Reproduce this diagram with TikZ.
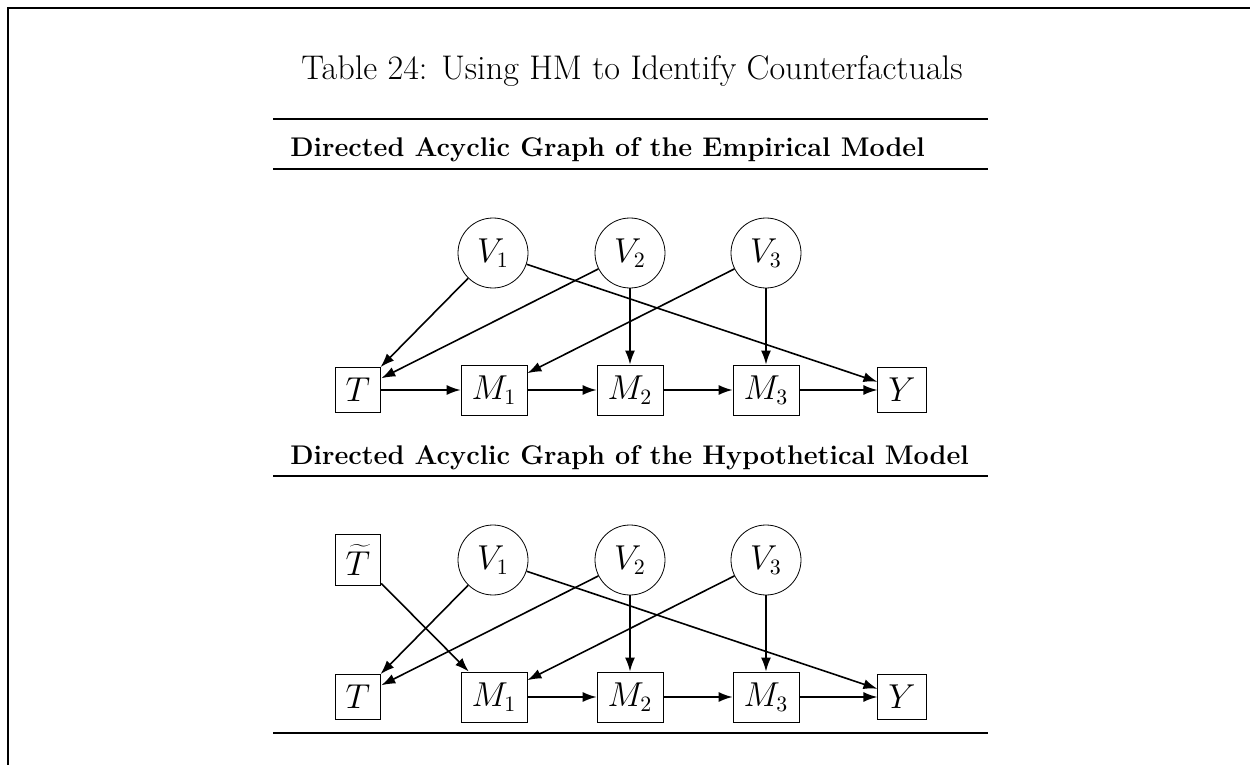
\documentclass[tikz,border=0pt]{standalone}
\usetikzlibrary{arrows.meta}
\begin{document}
\begin{tikzpicture}[x=0.5pt,y=-0.5pt,
  var/.style={draw,circle,line width=0.4pt,minimum size=35pt,inner sep=0pt,font=\fontsize{16}{19}\selectfont},
  obs/.style={draw,rectangle,line width=0.4pt,inner sep=5.3pt,font=\fontsize{16}{19}\selectfont},
  arr/.style={-{Latex[length=7pt,width=5pt]},line width=0.8pt},
  hrule/.style={line width=1.3pt},
  frame/.style={line width=1.2pt},
  title/.style={font=\fontsize{17.1}{20}\selectfont,anchor=base,inner sep=0pt},
  head/.style={font=\fontsize{13.5}{16}\selectfont\bfseries,anchor=base west,inner sep=0pt}]
\useasboundingbox (0,0) rectangle (1250,765);
\clip (0,0) rectangle (1250,765);
\draw[frame] (8,790) -- (8,8) -- (1280,8);

\node[title] (title) at (632,80) {Table 24: Using HM to Identify Counterfactuals};
\draw[hrule] (273,119) -- (988,119);
\node[head] (h1) at (290,157) {Directed Acyclic Graph of the Empirical Model};
\draw[hrule] (273,169) -- (988,169);
\node[head] (h2) at (290,465) {Directed Acyclic Graph of the Hypothetical Model};
\draw[hrule] (273,476) -- (988,476);
\draw[hrule] (273,733) -- (988,733);

% top graph
\node[var] (aV1) at (493,253) {$V_1$};
\node[var] (aV2) at (630,253) {$V_2$};
\node[var] (aV3) at (766,253) {$V_3$};
\node[obs] (aT) at (358,390) {$T$};
\node[obs] (aM1) at (494,390) {$M_1$};
\node[obs] (aM2) at (630,390) {$M_2$};
\node[obs] (aM3) at (766,390) {$M_3$};
\node[obs] (aY) at (902,390) {$Y$};
\draw[arr] (aV1) -- (aT);
\draw[arr] (aV2) -- (aT);
\draw[arr] (aV1) -- (aY);
\draw[arr] (aV3) -- (aM1);
\draw[arr] (aV2) -- (aM2);
\draw[arr] (aV3) -- (aM3);
\draw[arr] (aT) -- (aM1);
\draw[arr] (aM1) -- (aM2);
\draw[arr] (aM2) -- (aM3);
\draw[arr] (aM3) -- (aY);

% bottom graph
\node[obs] (bTt) at (358,560) {$\widetilde{T}$};
\node[var] (bV1) at (493,560) {$V_1$};
\node[var] (bV2) at (630,560) {$V_2$};
\node[var] (bV3) at (766,560) {$V_3$};
\node[obs] (bT) at (358,697) {$T$};
\node[obs] (bM1) at (494,697) {$M_1$};
\node[obs] (bM2) at (630,697) {$M_2$};
\node[obs] (bM3) at (766,697) {$M_3$};
\node[obs] (bY) at (902,697) {$Y$};
\draw[arr] (bTt) -- (bM1);
\draw[arr] (bV1) -- (bT);
\draw[arr] (bV2) -- (bT);
\draw[arr] (bV1) -- (bY);
\draw[arr] (bV3) -- (bM1);
\draw[arr] (bV2) -- (bM2);
\draw[arr] (bV3) -- (bM3);
\draw[arr] (bM1) -- (bM2);
\draw[arr] (bM2) -- (bM3);
\draw[arr] (bM3) -- (bY);
\end{tikzpicture}
\end{document}
